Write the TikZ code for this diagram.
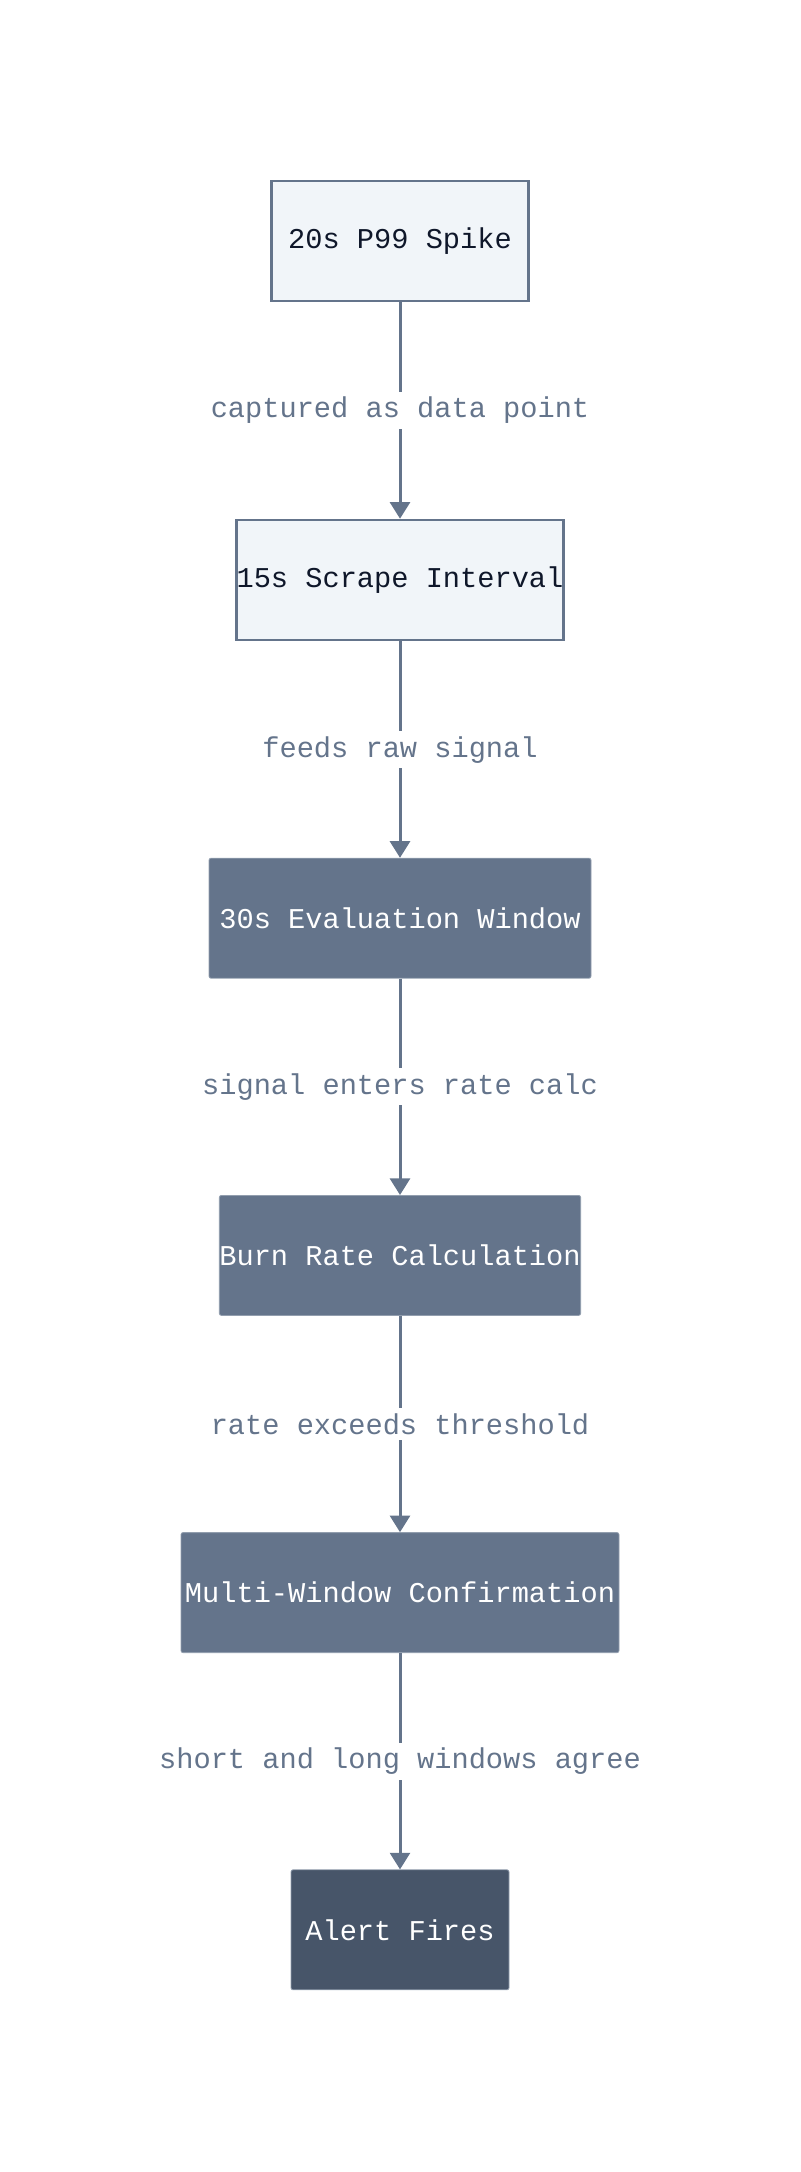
\documentclass[tikz,border=0pt]{standalone}
\usepackage{fontspec}
\setmonofont{Liberation Mono}
\usepackage{xcolor}
\usetikzlibrary{arrows.meta,positioning}

\definecolor{slateline}{HTML}{64748B}
\definecolor{slatelight}{HTML}{F1F5F9}
\definecolor{slatedark}{HTML}{475569}
\definecolor{inktext}{HTML}{0F172A}

\tikzset{
    stage/.style={rectangle, minimum height=90pt, inner sep=0pt,
        font=\ttfamily\fontsize{21.5}{26}\selectfont},
    lightstage/.style={stage, draw=slateline, line width=2pt, fill=slatelight, text=inktext},
    midstage/.style={stage, draw=slateline!70, line width=0.6pt, rounded corners=1.5pt, fill=slateline, text=white},
    endstage/.style={stage, draw=slateline!70, line width=0.6pt, rounded corners=1.5pt, fill=slatedark, text=white},
    flow/.style={draw=slateline, line width=2.25pt, -{Triangle[width=15pt,length=12.5pt]}},
    flowlabel/.style={fill=white, text=slateline, inner sep=4pt,
        font=\ttfamily\fontsize{21.5}{26}\selectfont}
}

\begin{document}
\begin{tikzpicture}[x=0.75pt, y=-0.75pt, node distance=162.3pt]
    \useasboundingbox (0,0) rectangle (800,2172);

    \node[lightstage, minimum width=192.75pt] (spike) at (400,241) {20s P99 Spike};
    \node[lightstage, minimum width=244.5pt, below=of spike] (scrape) {15s Scrape Interval};
    \node[midstage, minimum width=286.5pt, below=of scrape] (eval) {30s Evaluation Window};
    \node[midstage, minimum width=270pt, below=of eval] (burn) {Burn Rate Calculation};
    \node[midstage, minimum width=328.5pt, below=of burn] (confirm) {Multi-Window Confirmation};
    \node[endstage, minimum width=163.5pt, below=of confirm] (alert) {Alert Fires};

    % connectors with their labels
    \draw[flow] (spike) -- node[flowlabel] (lcap) {captured as data point} (scrape);
    \draw[flow] (scrape) -- node[flowlabel] (lfeed) {feeds raw signal} (eval);
    \draw[flow] (eval) -- node[flowlabel] (lrate) {signal enters rate calc} (burn);
    \draw[flow] (burn) -- node[flowlabel] (lthr) {rate exceeds threshold} (confirm);
    \draw[flow] (confirm) -- node[flowlabel] (lagree) {short and long windows agree} (alert);
\end{tikzpicture}
\end{document}
